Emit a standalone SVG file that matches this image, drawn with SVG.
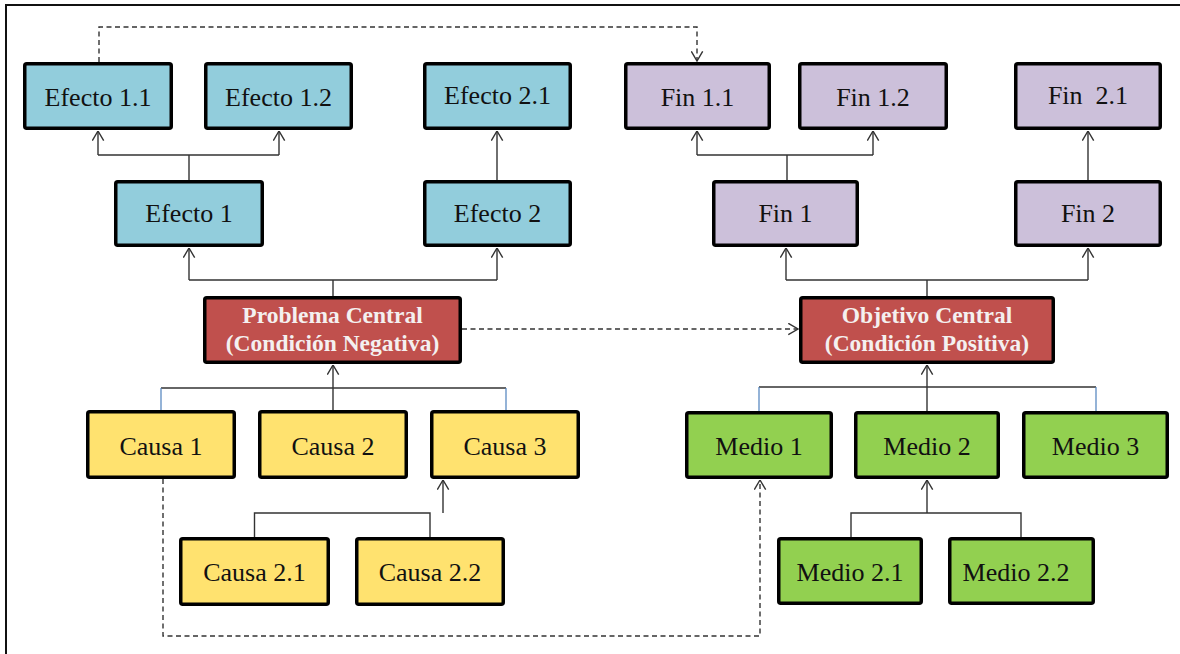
<svg xmlns="http://www.w3.org/2000/svg" width="1180" height="654" viewBox="0 0 1180 654">
  <style>
    .box { stroke: #000; stroke-width: 3.5; }
    .efecto { fill: #92CDDC; }
    .fin { fill: #CCC0DA; }
    .central { fill: #C0504D; }
    .causa { fill: #FFE26F; }
    .medio { fill: #92D050; }
    .lbl { font-family: "Liberation Serif", "Times New Roman", serif; font-size: 26px; fill: #111; text-anchor: middle; }
    .lbl-b { font-family: "Liberation Serif", "Times New Roman", serif; font-size: 23.5px; font-weight: bold; fill: #F4F0F0; text-anchor: middle; }
    .link { fill: none; stroke: #333; stroke-width: 1.4; }
    .link-blue { fill: none; stroke: #4F81BD; stroke-width: 1.2; }
    .dash { fill: none; stroke: #333; stroke-width: 1.4; stroke-dasharray: 5 3.5; }
  </style>
  <defs>
    <!-- open chevron arrowhead, tip at the path end -->
    <marker id="arrow" viewBox="0 0 11 13" refX="10.5" refY="6.5" markerWidth="11" markerHeight="13" markerUnits="userSpaceOnUse" orient="auto">
      <path d="M0.8,0.8 L10.5,6.5 L0.8,12.2" fill="none" stroke="#333" stroke-width="1.4"/>
    </marker>
  </defs>

  <rect width="1180" height="654" fill="#fff"/>
  <!-- frame -->
  <path d="M6,654 L6,5 L1180,5" fill="none" stroke="#111" stroke-width="2"/>

  <!-- connectors -->
  <g id="connectors">
    <!-- effects tree -->
    <path class="link" d="M189,180 V155 M98,155 H279"/>
    <path class="link" d="M98,155 V131" marker-end="url(#arrow)"/>
    <path class="link" d="M279,155 V131" marker-end="url(#arrow)"/>
    <path class="link" d="M497,180 V131" marker-end="url(#arrow)"/>
    <path class="link" d="M333,296 V280 M189,280 H497"/>
    <path class="link" d="M189,280 V248" marker-end="url(#arrow)"/>
    <path class="link" d="M497,280 V248" marker-end="url(#arrow)"/>
    <!-- ends tree -->
    <path class="link" d="M787,180 V155 M697,155 H873"/>
    <path class="link" d="M697,155 V131" marker-end="url(#arrow)"/>
    <path class="link" d="M873,155 V131" marker-end="url(#arrow)"/>
    <path class="link" d="M1088,180 V131" marker-end="url(#arrow)"/>
    <path class="link" d="M927,296 V280 M786,280 H1088"/>
    <path class="link" d="M786,280 V248" marker-end="url(#arrow)"/>
    <path class="link" d="M1088,280 V248" marker-end="url(#arrow)"/>
    <!-- causes tree -->
    <path class="link" d="M161,388 H506"/>
    <path class="link-blue" d="M161,388 V410 M506,388 V410"/>
    <path class="link" d="M333,410 V365" marker-end="url(#arrow)"/>
    <path class="link" d="M254.5,537 V513 H430 V537"/>
    <path class="link" d="M443,513 V480" marker-end="url(#arrow)"/>
    <!-- means tree -->
    <path class="link" d="M759,387 H1096"/>
    <path class="link-blue" d="M759,387 V411 M1096,387 V411"/>
    <path class="link" d="M927,411 V365" marker-end="url(#arrow)"/>
    <path class="link" d="M851,537 V513 H1021 V537"/>
    <path class="link" d="M927,513 V480" marker-end="url(#arrow)"/>
    <!-- dashed correspondences -->
    <path class="dash" d="M99,62 V27 H697 V61" marker-end="url(#arrow)"/>
    <path class="dash" d="M462,329 H798" marker-end="url(#arrow)"/>
    <path class="dash" d="M163,479 V636 H760 V480" marker-end="url(#arrow)"/>
  </g>

  <!-- effects -->
  <g id="efecto-1-1"><rect class="box efecto" x="24.75" y="63.75" width="146.5" height="64.5" rx="2"/><text class="lbl" x="98" y="106">Efecto 1.1</text></g>
  <g id="efecto-1-2"><rect class="box efecto" x="205.75" y="63.75" width="145.5" height="64.5" rx="2"/><text class="lbl" x="278.5" y="106">Efecto 1.2</text></g>
  <g id="efecto-2-1"><rect class="box efecto" x="424.75" y="63.75" width="145.5" height="64.5" rx="2"/><text class="lbl" x="497.5" y="104">Efecto 2.1</text></g>
  <g id="efecto-1"><rect class="box efecto" x="115.75" y="181.75" width="146.5" height="63.5" rx="2"/><text class="lbl" x="189" y="222">Efecto 1</text></g>
  <g id="efecto-2"><rect class="box efecto" x="424.75" y="181.75" width="145.5" height="63.5" rx="2"/><text class="lbl" x="497.5" y="222">Efecto 2</text></g>

  <!-- ends -->
  <g id="fin-1-1"><rect class="box fin" x="625.75" y="63.75" width="143.5" height="64.5" rx="2"/><text class="lbl" x="697.5" y="106">Fin 1.1</text></g>
  <g id="fin-1-2"><rect class="box fin" x="799.75" y="63.75" width="146.5" height="64.5" rx="2"/><text class="lbl" x="873" y="106">Fin 1.2</text></g>
  <g id="fin-2-1"><rect class="box fin" x="1015.75" y="63.75" width="144.5" height="64.5" rx="2"/><text class="lbl" x="1088" y="104" xml:space="preserve">Fin  2.1</text></g>
  <g id="fin-1"><rect class="box fin" x="713.75" y="181.75" width="143.5" height="63.5" rx="2"/><text class="lbl" x="785.5" y="222">Fin 1</text></g>
  <g id="fin-2"><rect class="box fin" x="1015.75" y="181.75" width="144.5" height="63.5" rx="2"/><text class="lbl" x="1088" y="222">Fin 2</text></g>

  <!-- central nodes -->
  <g id="problema-central"><rect class="box central" x="204.75" y="297.75" width="255.5" height="64.5" rx="2"/><text class="lbl-b" x="332.5" y="323">Problema Central</text><text class="lbl-b" x="332.5" y="351">(Condición Negativa)</text></g>
  <g id="objetivo-central"><rect class="box central" x="800.75" y="297.75" width="252.5" height="64.5" rx="2"/><text class="lbl-b" x="927" y="323">Objetivo Central</text><text class="lbl-b" x="927" y="351">(Condición Positiva)</text></g>

  <!-- causes -->
  <g id="causa-1"><rect class="box causa" x="87.75" y="411.75" width="146.5" height="65.5" rx="2"/><text class="lbl" x="161" y="455">Causa 1</text></g>
  <g id="causa-2"><rect class="box causa" x="259.75" y="411.75" width="146.5" height="65.5" rx="2"/><text class="lbl" x="333" y="455">Causa 2</text></g>
  <g id="causa-3"><rect class="box causa" x="431.75" y="411.75" width="146.5" height="65.5" rx="2"/><text class="lbl" x="505" y="455">Causa 3</text></g>
  <g id="causa-2-1"><rect class="box causa" x="180.75" y="538.75" width="147.5" height="65.5" rx="2"/><text class="lbl" x="254.5" y="581">Causa 2.1</text></g>
  <g id="causa-2-2"><rect class="box causa" x="356.75" y="538.75" width="146.5" height="65.5" rx="2"/><text class="lbl" x="430" y="581">Causa 2.2</text></g>

  <!-- means -->
  <g id="medio-1"><rect class="box medio" x="686.75" y="412.75" width="144.5" height="64.5" rx="2"/><text class="lbl" x="759" y="455">Medio 1</text></g>
  <g id="medio-2"><rect class="box medio" x="855.75" y="412.75" width="142.5" height="64.5" rx="2"/><text class="lbl" x="927" y="455">Medio 2</text></g>
  <g id="medio-3"><rect class="box medio" x="1023.75" y="412.75" width="143.5" height="64.5" rx="2"/><text class="lbl" x="1095.5" y="455">Medio 3</text></g>
  <g id="medio-2-1"><rect class="box medio" x="778.75" y="538.75" width="142.5" height="64.5" rx="2"/><text class="lbl" x="850" y="581">Medio 2.1</text></g>
  <g id="medio-2-2"><rect class="box medio" x="949.75" y="538.75" width="143.5" height="64.5" rx="2"/><text class="lbl" x="1016" y="581">Medio 2.2</text></g>
</svg>
